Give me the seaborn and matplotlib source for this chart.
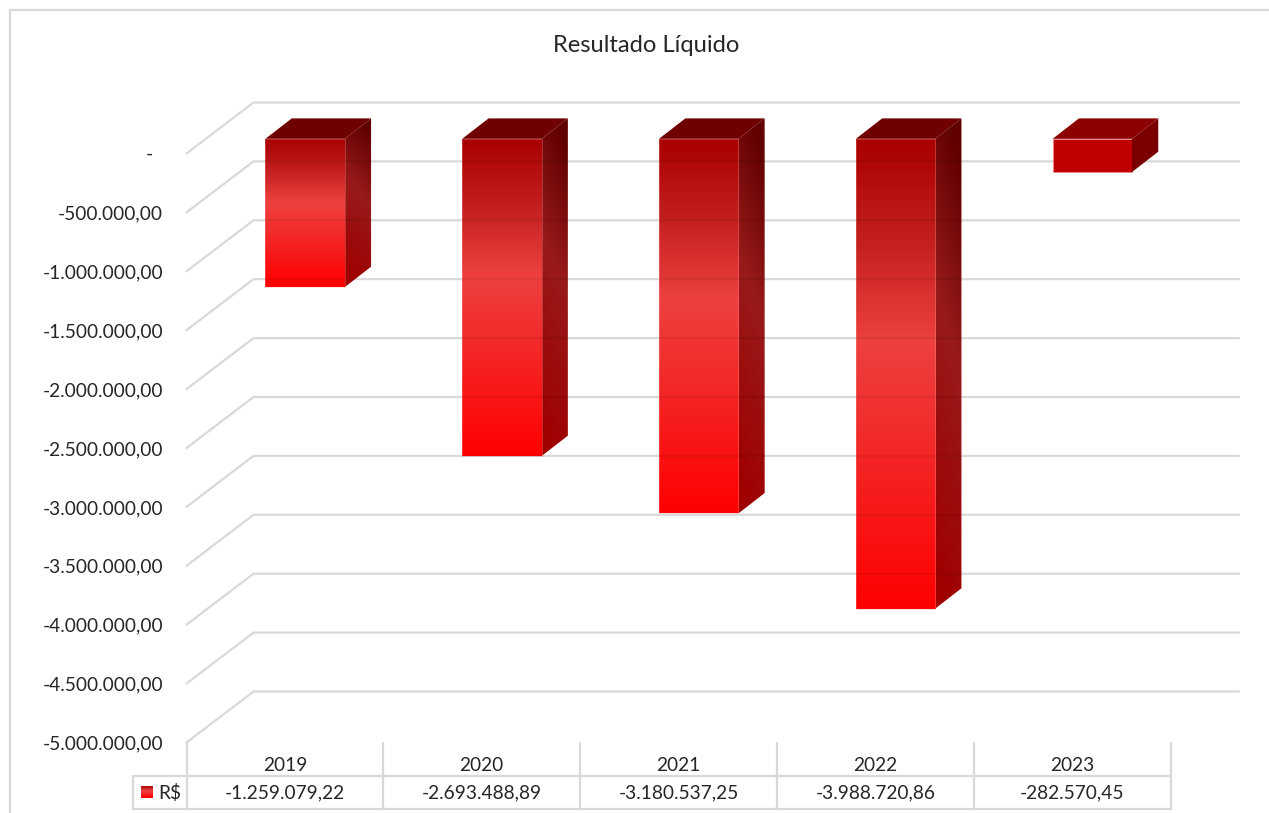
import numpy as np
import pandas as pd
import matplotlib
matplotlib.use("Agg")
import matplotlib.pyplot as plt
import seaborn as sns
from matplotlib.colors import LinearSegmentedColormap
from matplotlib.patches import Polygon, Rectangle
from matplotlib.transforms import blended_transform_factory

anos = ["2019", "2020", "2021", "2022", "2023"]
valores = [-1259079.22, -2693488.89, -3180537.25, -3988720.86, -282570.45]
valores_txt = ["-1.259.079,22", "-2.693.488,89", "-3.180.537,25", "-3.988.720,86", "-282.570,45"]
ticks = [0, -500000, -1000000, -1500000, -2000000, -2500000, -3000000, -3500000, -4000000, -4500000, -5000000]
tick_txt = ["-  ", "-500.000,00", "-1.000.000,00", "-1.500.000,00", "-2.000.000,00", "-2.500.000,00",
            "-3.000.000,00", "-3.500.000,00", "-4.000.000,00", "-4.500.000,00", "-5.000.000,00"]
titulo = "Resultado Líquido"
serie = "R$"

W, H = 1269, 813
GRID = "#d9d9d9"
TXT = "#262626"
FONT = "Lato"
FS = 13.8

sns.set_theme(style="white")
plt.rcParams["font.family"] = [FONT, "DejaVu Sans"]

fig = plt.figure(figsize=(W / 100, H / 100), dpi=100)
L, R, T, B = 186.5, 1170.5, 153.5, 742.5
ax = fig.add_axes([L / W, 1 - B / H, (R - L) / W, (B - T) / H])

df = pd.DataFrame({"ano": anos, "valor": valores})
sns.barplot(data=df, x="ano", y="valor", width=0.403, color="#ff0000", ax=ax, zorder=3, errorbar=None)

ax.set_xlim(-0.5, 4.5)
ax.set_ylim(-5000000, 0)
sx = (R - L) / 5
sy = (B - T) / 5000000
def ux(px): return px / sx
def uy(px): return px / sy

# 3D box geometry, in data units
wall_dx, wall_dy = ux(67), uy(51)
bar_dx, bar_dy = ux(20.2), uy(14.7)
dep_dx, dep_dy = ux(26.3), uy(20.4)
wall_right = -0.5 + wall_dx + 5 + ux(1239 - R - 67)

# back wall + side wall gridlines
for v in ticks:
    ax.plot([-0.5, -0.5 + wall_dx, wall_right],
            [v, v + wall_dy, v + wall_dy], color=GRID, lw=1.6, clip_on=False, zorder=1,
            solid_joinstyle="miter")

front = LinearSegmentedColormap.from_list("f", [(0, "#a80000"), (0.22, "#c42020"), (0.43, "#ee4040"),
                                                 (0.62, "#f22c2c"), (1, "#ff0000")])
side = LinearSegmentedColormap.from_list("s", [(0, "#600000"), (0.43, "#981a1a"), (1, "#a00000")])
FLAT_FRONT, FLAT_SIDE, FLAT_TOP = "#c00000", "#7a0000", "#8c0000"

def grad(cm, x0, x1, y0, y1, clip, skew=0.0):
    yy, xx = np.mgrid[0:1:256j, 0:1:8j]
    im = ax.imshow(np.clip(yy + skew * (xx - 0.5), 0, 1), cmap=cm, vmin=0, vmax=1, extent=[x0, x1, y1, y0],
                   aspect="auto", origin="upper", zorder=3, interpolation="bilinear")
    im.set_clip_box(fig.bbox)
    im.set_clip_path(clip)
    return im

patches = list(ax.patches)
for p, v in zip(patches, valores):
    x0 = p.get_x() + bar_dx
    x1 = x0 + p.get_width()
    y0 = bar_dy
    y1 = v + bar_dy
    p.set_x(x0)
    p.set_y(y0)
    p.set_height(v)
    p.set_clip_on(False)
    flat = abs(v) < 500000
    # top face
    ax.add_patch(Polygon([(x0, y0), (x0 + dep_dx, y0 + dep_dy), (x1 + dep_dx, y0 + dep_dy), (x1, y0)],
                         closed=True, fc=FLAT_TOP if flat else "#700000", ec="none", clip_on=False, zorder=3))
    # side face
    s = Polygon([(x1, y0), (x1 + dep_dx, y0 + dep_dy), (x1 + dep_dx, y1 + dep_dy), (x1, y1)],
                closed=True, fc=FLAT_SIDE if flat else "none", ec="none", clip_on=False, zorder=3,
                transform=ax.transData)
    ax.add_patch(s)
    if flat:
        p.set_facecolor(FLAT_FRONT)
        p.set_edgecolor((0.93, 0.55, 0.55, 0.7))
        p.set_linewidth(0.5)
    else:
        grad(side, x1, x1 + dep_dx, y0 + dep_dy, y1, s, skew=-0.15)
        p.set_facecolor("none")
        p.set_edgecolor((1.0, 0.6, 0.6, 0.45))
        p.set_linewidth(0.5)
        p.set_zorder(4)
        fp = Rectangle((x0, y1), x1 - x0, -v, transform=ax.transData, fc="none", ec="none")
        ax.add_patch(fp)
        grad(front, x0, x1, y0, y1, fp)
        # faint wall gridlines showing through the bar
        for t in ticks:
            g = t + wall_dy
            if y1 < g < y0:
                ax.plot([x0, x1], [g, g], color="black", alpha=0.06, lw=1.6, clip_on=False, zorder=5,
                        solid_capstyle="butt")
                if g > y1 + dep_dy:
                    ax.plot([x1, x1 + dep_dx], [g, g], color="black", alpha=0.06, lw=1.6, clip_on=False,
                            zorder=5, solid_capstyle="butt")

ax.set_xlim(-0.5, 4.5)
ax.set_ylim(-5000000, 0)

# axes text
ax.set_yticks(ticks)
ax.set_yticklabels(tick_txt, fontsize=FS, color=TXT)
ax.set_xticks(range(5))
ax.set_xticklabels(anos, fontsize=FS, color=TXT)
ax.tick_params(axis="y", length=0, pad=17)
ax.tick_params(axis="x", length=0, pad=10.5)
ax.set_xlabel("")
ax.set_ylabel("")
for sp in ax.spines.values():
    sp.set_visible(False)
ax.patch.set_alpha(0)

# data table below the axis
def hline(y, x0, x1):
    fig.add_artist(plt.Line2D([x0 / W, x1 / W], [1 - y / H, 1 - y / H], color=GRID, lw=1.6))
def vline(x, y0, y1):
    fig.add_artist(plt.Line2D([x / W, x / W], [1 - y0 / H, 1 - y1 / H], color=GRID, lw=1.6))

hline(776, 133, R)
hline(809, 133, R)
vline(133, 776, 809)
for i in range(6):
    vline(L + i * sx, B, 809)

trans = blended_transform_factory(ax.transData, fig.transFigure)
for i, t in enumerate(valores_txt):
    ax.text(i, 1 - 792.5 / H, t, transform=trans, ha="center", va="center", fontsize=FS, color=TXT, clip_on=False)
fig.text(158 / W, 1 - 792.5 / H, serie, ha="left", va="center", fontsize=FS, color=TXT)

# legend key
kax = fig.add_axes([141 / W, 1 - 798 / H, 12 / W, 12 / H])
kax.imshow(np.linspace(0, 1, 32)[:, None], cmap=front, aspect="auto")
kax.axis("off")

# chart border: only top and left are inside the picture
hline(10.5, 9.5, W)
vline(9.5, 10.5, H)

fig.text(646.5 / W, 1 - 46 / H, titulo, ha="center", va="center", fontsize=17.1, color=TXT)

fig.savefig("out.png", dpi=100, facecolor="white")
